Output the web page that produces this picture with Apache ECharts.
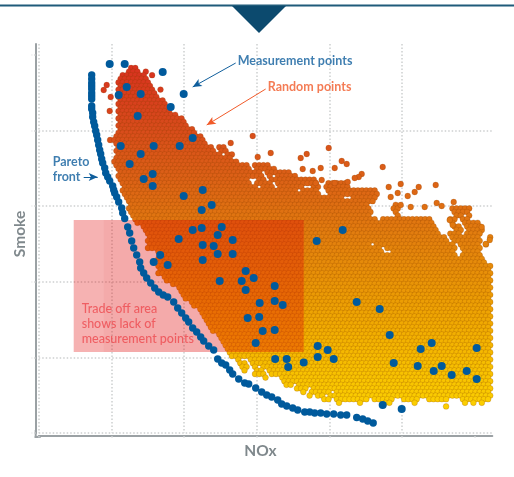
<!DOCTYPE html>
<html>
<head>
<meta charset="utf-8">
<title>NOx vs Smoke</title>
<script src="https://cdn.jsdelivr.net/npm/echarts@6/dist/echarts.min.js"></script>
<style>
  html, body { margin: 0; padding: 0; background: #fff; }
  #chart { width: 514px; height: 477px; }
</style>
</head>
<body>
<div id="chart"></div>
<script>
// the picture has no tick labels, so both axes are in arbitrary units read off the plot
var xGridStep = 72.7
var yGridStep = 75.6
var xTicks = [0, 72.7, 145.4, 218.1, 290.8, 363.5, 436.2]
var yTicks = [0, 75.6, 151.2, 226.8, 302.4, 378]

var paretoX = [53, 53, 53, 53, 53, 53, 53, 53, 53, 53, 54, 54, 55, 56, 57, 58, 59, 60, 61, 62, 63, 64, 66, 67, 69, 71, 74, 75, 76, 78, 80, 83, 84, 86, 89, 91, 93, 95, 98, 101, 102, 105, 108, 112, 116, 120, 124.5, 129, 135, 139, 143, 147, 150, 154, 158, 162, 165, 170, 175, 179, 183, 187, 191, 194, 200, 206, 210, 217, 223, 228, 233, 239, 243, 248, 254, 259, 266, 271, 276, 282, 288, 295, 302, 308, 318, 324, 329, 334.5]
var paretoY = [358, 354, 350, 347, 344, 340, 337, 334, 327, 324, 320, 316, 311, 307, 302, 298, 293, 288, 283, 279, 274, 270, 265, 260, 256, 252, 247, 243, 240, 236, 231, 225, 220, 214.5, 206, 200, 192, 185, 178, 171, 165, 160, 155, 150, 145, 141, 138, 136, 131, 125, 120, 115, 111, 105, 101, 96, 92, 87, 83, 74, 70, 68, 63, 59, 54, 50, 49, 45, 41, 38, 36, 33, 29, 27, 25, 23, 21, 21, 20, 20, 19, 19, 18, 18, 15.5, 14, 12, 10]

var measureX = [71, 86, 124, 88, 80, 102, 145, 132, 99, 154, 82, 115, 141, 102, 91, 114, 105, 114, 145, 164, 173, 163, 154, 163, 183, 179, 194, 140, 164, 175, 179, 194, 121.5, 164, 115, 129, 207, 215, 181, 203, 207, 221, 209, 220.5, 236, 236, 244, 224, 236, 217, 236.5, 248, 249.5, 265, 279, 289, 279, 295, 278, 304, 318, 341, 351, 355, 382, 393, 379, 403, 395, 413, 428, 438, 438, 344, 363]
var measureY = [369, 369, 361, 346, 338, 339, 339, 326, 317, 295, 287, 287, 287, 279, 269, 259, 254, 247, 237, 243, 228, 223, 203, 205, 206, 198, 193, 194, 188, 187, 179, 179, 178, 173, 171, 168, 162, 155, 152, 152, 143, 130, 115, 116, 147, 132, 128, 102, 103, 90, 74, 74, 66, 70.5, 87, 83, 76, 74, 192, 203, 131, 124, 98, 70, 84, 90, 67, 67, 62, 58, 62, 85, 54, 28, 24]

// random points: the cloud is too dense to list dot by dot, so each row holds
// [y, from, to, from, to, ...] runs of dots
var cloudRows = [
  [365, 92, 98], [361.4, 88, 102, 107, 109], [357.8, 84, 109, 112, 114], [354.2, 80, 111],
  [350.6, 78, 112], [347, 78, 112], [343.4, 78, 114, 118, 122], [339.8, 78, 117],
  [336.2, 78, 121], [332.6, 79, 124], [329, 78, 127], [325.4, 78, 131],
  [321.8, 76, 134], [318.2, 78, 139], [314.6, 79, 144], [311, 79, 148],
  [307.4, 78, 151], [303.8, 79, 155], [300.2, 78, 159], [296.6, 77, 163],
  [293, 69, 166], [289.4, 74, 170], [285.8, 76, 173, 177, 186], [282.2, 76, 178, 182, 189],
  [278.6, 77, 183, 187, 197], [275, 76, 193], [271.4, 75, 201], [267.8, 76, 208, 215, 231],
  [264.2, 77, 211, 215, 239], [260.6, 78, 223, 227, 251], [257, 79, 225, 229, 233, 237, 259],
  [253.4, 81, 211, 219, 225, 229, 277], [249.8, 82, 211, 218, 233, 238, 279, 289, 308],
  [246.2, 83, 219, 223, 237, 241, 266, 271, 281, 287, 311], [242.6, 84, 258, 262, 278, 289, 338],
  [239, 85, 283, 291, 339], [235.4, 86, 306, 311, 339],
  [231.8, 87, 336], [228.2, 89, 331, 354, 361],
  [224.6, 90, 333, 351, 363, 413, 433], [221, 92, 333, 357, 361, 415, 431],
  [217.4, 94, 333, 357, 363, 417, 424, 427, 433], [213.8, 95, 336, 341, 393, 409, 416, 423, 431],
  [210.2, 98, 393, 411, 417, 423, 439], [206.6, 102, 395, 413, 421, 427, 443],
  [203, 105, 397, 417, 423, 429, 445], [199.4, 107, 401, 411, 421, 427, 441],
  [195.8, 108, 406, 410, 439, 450, 452], [192.2, 109, 409, 413, 443],
  [188.6, 109, 333, 337, 416, 419, 439, 447, 449], [185, 109, 341, 345, 417, 421, 441],
  [181.4, 116, 346, 353, 417, 425, 439], [177.8, 119, 419, 423, 443],
  [174.2, 118, 446], [170.6, 118, 449], [167, 118, 453.5],
  [163.4, 118, 453.5], [159.8, 119, 453.5], [156.2, 122, 453.5], [152.6, 126, 453.5],
  [149, 131, 453.5], [145.4, 137, 453.5], [141.8, 142, 453.5], [138.2, 144, 453.5],
  [134.6, 147, 453.5], [131, 151, 453.5], [127.4, 155, 453.5], [123.8, 158, 453.5],
  [120.2, 160, 453.5], [116.6, 163, 453.5], [113, 166, 453.5], [109.4, 169, 453.5],
  [105.8, 172, 453.5], [102.2, 174, 453.5], [98.6, 177, 453.5], [95, 181, 453.5],
  [91.4, 184, 453.5], [87.8, 186, 453.5], [84.2, 189, 453.5], [80.6, 191, 453.5],
  [77, 193, 453.5], [73.4, 197, 201, 208, 453.5], [69.8, 199, 207, 211, 453.5],
  [66.2, 202, 208, 214, 219, 223, 453.5], [62.6, 204, 208, 215, 223, 229, 453.5],
  [59, 216, 227, 233, 453.5], [55.4, 225, 229, 233, 235, 241, 453.5], [51.8, 243, 251, 254, 453.5],
  [48.2, 245, 253, 257, 453.5], [44.6, 258, 267, 273, 453.5], [41, 261, 267, 272, 291, 297, 453.5],
  [37.4, 268, 273, 277, 285, 291, 453.5],
  [33.8, 284, 291, 298, 328, 334, 354, 363, 379, 388, 408, 421, 453.5],
  [30.2, 299, 303, 321, 325, 345, 351, 375, 379, 424, 428, 431, 436, 443, 447],
  [26.6, 407, 411]
]
var looseX = [290, 232, 219, 268, 262, 303, 308, 344, 264, 274, 282, 296, 323, 320, 316, 283, 277, 309, 296, 362, 397, 380, 350, 376, 359, 369, 352, 398, 415, 403, 386, 372, 362, 214, 192, 68, 65, 72, 71, 451, 447, 443, 411, 414]
var looseY = [285, 280, 276, 279, 275, 272, 269, 266, 264, 262, 265, 265, 259, 256, 255, 253, 250, 251, 250, 249, 248, 246, 246, 241, 240, 237, 236, 230, 231, 227, 226, 226, 228, 297, 290, 348, 343, 336, 322, 193, 189, 206, 213, 208]

var tradeOffX = [35, 65]
var tradeOffEndX = [265, 265]
var tradeOffY = [81, 81]
var tradeOffEndY = [213, 213]
var tradeOffFill = ['rgba(225,0,0,0.3)', 'rgba(200,40,40,0.06)']

var noteX = [199, 229, 14, 14, 43, 43, 43]
var noteY = [372, 346, 271, 256, 124, 109, 94]
var noteText = ['Measurement points', 'Random points', 'Pareto', 'front', 'Trade off area', 'shows lack of', 'measurement points']
var noteColor = ['#0f5e9c', '#f15a29', '#0f5e9c', '#0f5e9c', '#ee4a4f', '#ee4a4f', '#ee4a4f']
var noteWeight = ['bold', 'bold', 'bold', 'bold', 500, 500, 500]

function zip(xs, ys) {
  return xs.map(function(x, i) { return [x, ys[i]] })
}

// lay the runs out on the packed pattern of the plot
function cloudData() {
  var dots = []
  var pitch = 4.2
  cloudRows.forEach(function(row, i) {
    var shift = i % 2 ? pitch / 2 : 0
    for (var r = 1; r < row.length; r += 2) {
      var k = Math.ceil((row[r] - shift) / pitch)
      for (var x = k * pitch + shift; x <= row[r + 1]; x += pitch) {
        dots.push([x, row[0]])
      }
    }
  })
  return dots.concat(zip(looseX, looseY))
}

function axisLine() {
  return { show: true, onZero: false, lineStyle: { color: '#9ba1a4', width: 2 } }
}
function dotted() {
  return { color: '#cdcfd0', width: 1.5, type: [1.5, 2] }
}

var chart = echarts.init(document.getElementById('chart'))
chart.setOption({
  animation: false,
  grid: { left: 38.7, right: 21.7, top: 44, bottom: 44, outerBoundsMode: 'none' },
  xAxis: {
    type: 'value', min: 0, max: 453.6, interval: xGridStep, offset: 3,
    name: 'NOx', nameLocation: 'middle', nameGap: 7,
    nameTextStyle: { color: '#7f888c', fontFamily: 'Lato', fontWeight: 'bold', fontSize: 15.5, padding: [0, 10, 0, 0] },
    axisLine: axisLine(),
    axisLabel: { show: false },
    axisTick: { show: true, length: 3, customValues: xTicks, lineStyle: dotted() },
    splitLine: { show: true, showMaxLine: false, lineStyle: dotted() }
  },
  yAxis: {
    type: 'value', min: 0, max: 389, interval: yGridStep, offset: 3,
    name: 'Smoke', nameLocation: 'middle', nameGap: 8,
    nameTextStyle: { color: '#7f888c', fontFamily: 'Lato', fontWeight: 'bold', fontSize: 15.5, padding: [0, 0, 0, 9] },
    axisLine: axisLine(),
    axisLabel: { show: false },
    axisTick: { show: true, length: 4, customValues: yTicks, lineStyle: dotted() },
    splitLine: { show: true, showMaxLine: false, lineStyle: dotted() }
  },
  visualMap: {
    show: false, type: 'continuous', seriesIndex: 0, dimension: 1, min: 25, max: 365,
    inRange: { color: ['#fcd000', '#f5b800', '#eb9a05', '#e37f0e', '#dc6216', '#d84a1c', '#d8321f'] }
  },
  graphic: [
    { type: 'rect', shape: { x: 0, y: 4.5, width: 514, height: 2 }, style: { fill: '#1f5b7a' } },
    { type: 'polygon', shape: { points: [[232, 6], [286, 6], [259, 33]] }, style: { fill: '#0c4a6e' } },
    // closes the corner where the two offset axis lines stop short of each other
    { type: 'rect', shape: { x: 34.7, y: 430, width: 2, height: 8 }, style: { fill: '#9ba1a4' } },
    { type: 'rect', shape: { x: 34.7, y: 436, width: 6, height: 2 }, style: { fill: '#9ba1a4' } }
  ],
  series: [
    {
      name: 'Random points', type: 'scatter', z: 2, progressive: 0, large: false,
      symbolSize: 5.8, data: cloudData(),
      itemStyle: { borderColor: 'rgba(130,60,0,0.28)', borderWidth: 0.8, opacity: 1 },
      emphasis: { disabled: true }, silent: true
    },
    {
      name: 'Trade off', type: 'custom', z: 3, silent: true,
      data: tradeOffX.map(function(x, i) {
        return [x, tradeOffY[i], tradeOffEndX[i], tradeOffEndY[i]]
      }),
      encode: { x: [0, 2], y: [1, 3] },
      renderItem: function(params, api) {
        var a = api.coord([api.value(0), api.value(1)])
        var b = api.coord([api.value(2), api.value(3)])
        return {
          type: 'rect',
          shape: { x: a[0], y: b[1], width: b[0] - a[0], height: a[1] - b[1] },
          style: { fill: tradeOffFill[params.dataIndex] }
        }
      }
    },
    {
      name: 'Pareto front', type: 'scatter', z: 4, symbolSize: 7.4, data: zip(paretoX, paretoY),
      itemStyle: { color: '#005a9c', opacity: 1 }
    },
    {
      name: 'Measurement points', type: 'scatter', z: 5, symbolSize: 8, data: zip(measureX, measureY),
      itemStyle: { color: '#005a9c', opacity: 1 },
      markLine: {
        silent: true, symbol: ['none', 'arrow'], symbolSize: [6, 9], animation: false,
        label: { show: false },
        data: [
          [{ coord: [197, 370], lineStyle: { color: '#0f5e9c', width: 1, type: 'solid' } }, { coord: [154, 346] }],
          [{ coord: [227, 344], lineStyle: { color: '#f15a29', width: 1, type: 'solid' } }, { coord: [168, 308] }],
          [{ coord: [45, 256], lineStyle: { color: '#0f5e9c', width: 1, type: 'solid' } }, { coord: [59, 256] }]
        ]
      }
    },
    {
      name: 'Notes', type: 'scatter', z: 6, symbolSize: 0, silent: true,
      data: noteX.map(function(x, i) {
        return {
          value: [x, noteY[i]],
          label: {
            show: true, position: 'right', distance: 0, formatter: noteText[i],
            color: noteColor[i], fontFamily: 'Lato', fontSize: 12.5, fontWeight: noteWeight[i]
          }
        }
      })
    }
  ]
})
</script>
</body>
</html>
